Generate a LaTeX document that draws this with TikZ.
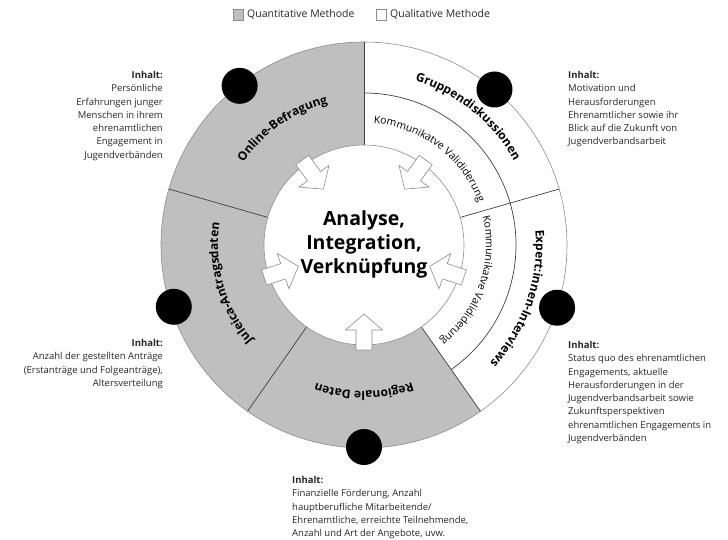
\documentclass[tikz,border=0pt]{standalone}
\usepackage{fontspec}
\setmainfont{Open Sans}
\usetikzlibrary{decorations.text}
\definecolor{fillgray}{HTML}{BFBFBF}
\definecolor{linedark}{HTML}{404040}
\definecolor{lineout}{HTML}{8C8C8C}
\definecolor{txt}{HTML}{262626}
\newcommand\bandfont{\fontsize{12}{14}\selectfont\bfseries}
\newcommand\valfont{\fontsize{10.5}{12}\selectfont}
\begin{document}
\begin{tikzpicture}[x=1pt,y=1pt,
  info/.style={font=\fontsize{9.5}{13.3}\selectfont, text=txt, inner sep=0pt},
  legbox/.style={draw=lineout, minimum width=10pt, minimum height=11pt, inner sep=0pt},
  legtext/.style={font=\fontsize{10.5}{12}\selectfont, text=txt, inner sep=0pt, anchor=west},
  blackdot/.style={circle, fill=black, minimum size=36pt, inner sep=0pt},
  blockarrow/.style={draw=lineout, fill=white, line width=0.6pt},
  divider/.style={draw=linedark, line width=0.7pt}
]
\useasboundingbox (0,0) rectangle (728,539);
\coordinate (C) at (364,294);

% legend
\node[legbox, fill=fillgray] (lq) at (238,524.5) {};
\node[legtext] (lqt) at (247,524.5) {Quantitative Methode};
\node[legbox, fill=white] (ll) at (381,524.5) {};
\node[legtext] (llt) at (390,524.5) {Qualitative Methode};

\begin{scope}[shift={(C)}]
  \fill[fillgray] (90:203) arc[start angle=90,end angle=305,radius=203]
      -- (305:100) arc[start angle=305,end angle=90,radius=100] -- cycle;
  \draw[lineout, line width=0.6pt] (0,0) circle[radius=203];
  \draw[divider] (-55:152) arc[start angle=-55,end angle=90,radius=152];
  \foreach \a in {90,16,-55,164,235} \draw[divider] (\a:100) -- (\a:203);
  \draw[lineout, line width=0.6pt, fill=white] (0,0) circle[radius=100];

  % arrows
  \foreach \a in {126,54,-18,-90,198}
    \draw[blockarrow, rotate=\a] (105,8) -- (85,8) -- (85,18.5) -- (69,0)
        -- (85,-18.5) -- (85,-8) -- (105,-8) -- cycle;

  % dots
  \node[blackdot] (d1) at (128:202) {};
  \node[blackdot] (d2) at (50:203) {};
  \node[blackdot] (d3) at (-18:203) {};
  \node[blackdot] (d4) at (-90:202) {};
  \node[blackdot] (d5) at (198:200) {};

  % center text
  \node[align=center, font=\fontsize{19.5}{24}\selectfont\bfseries, inner sep=0pt] (center) at (0,1)
    {Analyse,\\Integration,\\Verknüpfung};

  % curved labels
  \path[decorate, decoration={text along path, text align=center,
     text={|\bandfont|Online-Befragung}}]
     (165:146) arc[start angle=165,end angle=85,radius=146];
  \path[decorate, decoration={text along path, text align=center,
     text={|\bandfont|Gruppendiskussionen}}]
     (96:172) arc[start angle=96,end angle=6,radius=172];
  \path[decorate, decoration={text along path, text align=center,
     text={|\valfont|Kommunikatve Valididerung}}]
     (98:122) arc[start angle=98,end angle=8,radius=122];
  \path[decorate, decoration={text along path, text align=center,
     text={|\valfont|Kommunikatve Valididerung}}]
     (26:122) arc[start angle=26,end angle=-64,radius=122];
  \path[decorate, decoration={text along path, text align=center,
     text={|\bandfont|Expert:innen-Interviews}}]
     (26:172) arc[start angle=26,end angle=-64,radius=172];
  \path[decorate, decoration={text along path, text align=center,
     text={|\bandfont|Regionale Daten}}]
     (310:146) arc[start angle=310,end angle=230,radius=146];
  \path[decorate, decoration={text along path, text align=center,
     text={|\bandfont|Juleica-Antragsdaten}}]
     (241:146) arc[start angle=241,end angle=151,radius=146];
\end{scope}

% info texts
\node[info, align=right, anchor=north east] (i1) at (163,468)
  {{\bfseries Inhalt:}\\Persönliche\\Erfahrungen junger\\Menschen in ihrem\\ehrenamtlichen\\Engagement in\\Jugendverbänden};
\node[info, align=left, anchor=north west] (i2) at (568,468)
  {{\bfseries Inhalt:}\\Motivation und\\Herausforderungen\\Ehrenamtlicher sowie ihr\\Blick auf die Zukunft von\\Jugendverbandsarbeit};
\node[info, align=right, anchor=north east] (i3) at (163,200)
  {{\bfseries Inhalt:}\\Anzahl der gestellten Anträge\\(Erstanträge und Folgeanträge),\\Altersverteilung};
\node[info, align=left, anchor=north west] (i4) at (568,198)
  {{\bfseries Inhalt:}\\Status quo des ehrenamtlichen\\Engagements, aktuelle\\Herausforderungen in der\\Jugendverbandsarbeit sowie\\Zukunftsperspektiven\\ehrenamtlichen Engagements in\\Jugendverbänden};
\node[info, align=left, anchor=north west] (i5) at (292,63)
  {{\bfseries Inhalt:}\\Finanzielle Förderung, Anzahl\\hauptberufliche Mitarbeitende/\\Ehrenamtliche, erreichte Teilnehmende,\\Anzahl und Art der Angebote, uvw.};
\end{tikzpicture}
\end{document}
